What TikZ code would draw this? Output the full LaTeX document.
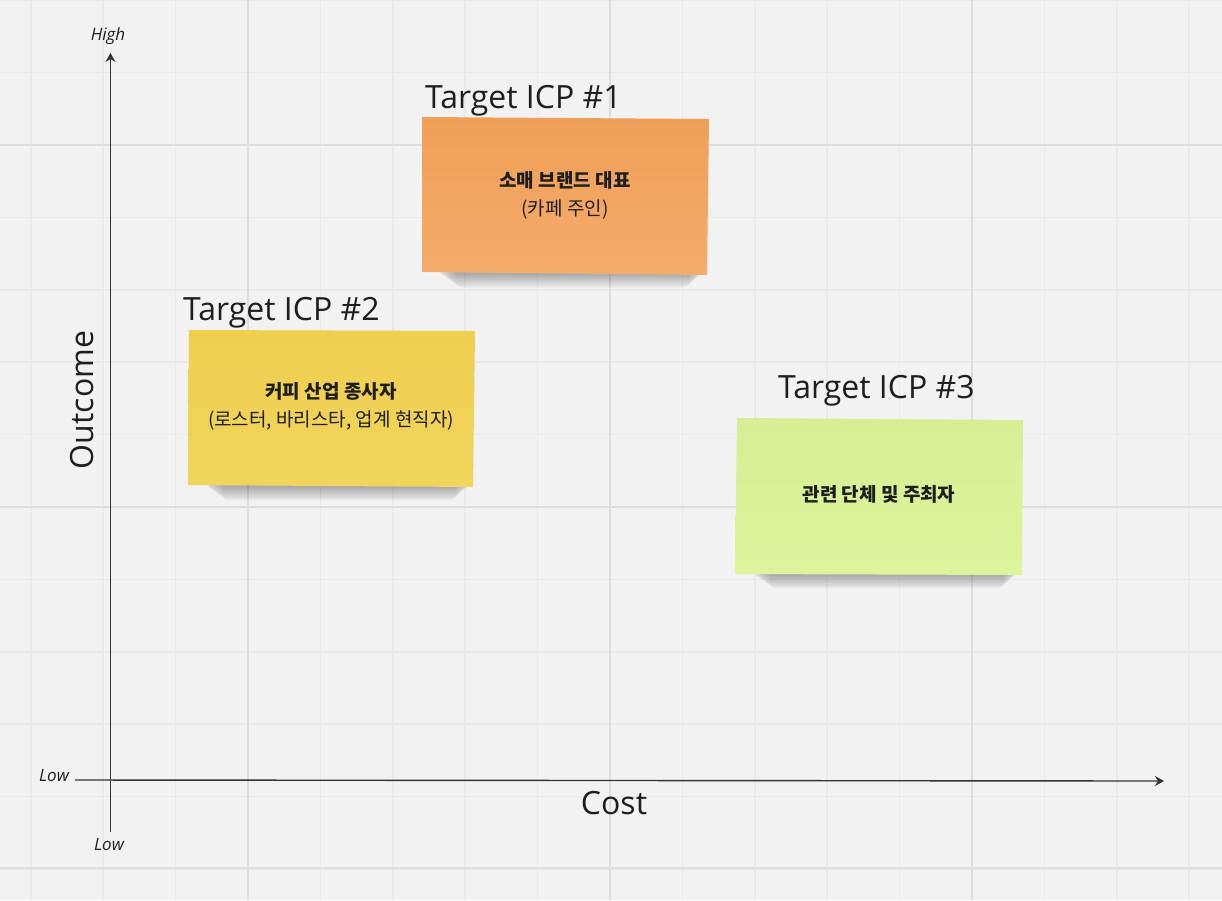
\documentclass[tikz,border=0pt]{standalone}
\usepackage{fontspec}
\setmainfont{Open Sans}
\newfontfamily\kr{Noto Sans CJK KR}
\usetikzlibrary{arrows.meta}
\definecolor{bg}{HTML}{F2F2F2}
\definecolor{gridminor}{HTML}{E9E9E9}
\definecolor{gridmajor}{HTML}{DDDDDD}
\definecolor{axis}{HTML}{333333}
\definecolor{inktext}{HTML}{1E1E1E}
\definecolor{orangeA}{HTML}{F09F58}
\definecolor{orangeB}{HTML}{F4AC6B}
\definecolor{yellowA}{HTML}{EFCF4F}
\definecolor{yellowB}{HTML}{F1D45C}
\definecolor{limeA}{HTML}{D8EE94}
\definecolor{limeB}{HTML}{DDF49C}
\tikzset{
  minorline/.style={draw=gridminor, line width=1.6pt},
  majorline/.style={draw=gridmajor, line width=2pt},
  axisline/.style={draw=axis, line width=1.4pt},
  axistip/.style={-{Stealth[length=9pt,width=10pt,inset=3pt]}},
  biglabel/.style={text=inktext, font=\fontsize{32}{38}\selectfont, inner sep=0pt},
  smalllabel/.style={text=inktext, font=\itshape\fontsize{17}{20}\selectfont, inner sep=0pt},
  notetext/.style={text=inktext, font=\kr\fontsize{19}{28}\selectfont, align=center, inner sep=0pt},
  shadowlayer/.style={fill=black, opacity=0.04, rounded corners=7pt},
}
\newcommand\mynoteshadow[3]{% left x, right x, bottom y
  \foreach \i in {0,...,7}{
    \fill[shadowlayer] (#1+16+\i*2.5, #3-10) rectangle (#2-4-\i*2, #3+2+\i*1.8);
  }
}
\begin{document}
\begin{tikzpicture}[x=1pt,y=-1pt]
\fill[bg] (0,0) rectangle (1222,900);
\useasboundingbox (0,0) rectangle (1222,900);
% grid
\foreach \k in {0,...,16}{
  \pgfmathsetmacro\gx{30.8+72.4*\k}
  \draw[minorline] (\gx,0) -- (\gx,900);
}
\foreach \k in {0,...,12}{
  \pgfmathsetmacro\gy{0.2+72.4*\k}
  \draw[minorline] (0,\gy) -- (1222,\gy);
}
\foreach \gx in {248,610,972}{ \draw[majorline] (\gx,0) -- (\gx,900); }
\foreach \gy in {145,507,868}{ \draw[majorline] (0,\gy) -- (1222,\gy); }

% axes
\coordinate (ybot) at (110.5,832);
\coordinate (ytop) at (110.5,53);
\coordinate (xleft) at (75,780);
\coordinate (xright) at (1164,781);
\draw[axisline, axistip] (ybot) -- (ytop);
\draw[axisline, axistip] (xleft) -- (xright);
\node[smalllabel] (high) at (108,36) {High};
\node[smalllabel] (lowx) at (54,775) {Low};
\node[smalllabel] (lowy) at (109,844) {Low};
\node[biglabel, rotate=90] (outcome) at (82,400) {Outcome};
\node[biglabel] (cost) at (614,803) {Cost};

% note 1
\mynoteshadow{422}{708}{273}
\coordinate (n1a) at (422,117);
\coordinate (n1b) at (709,119);
\coordinate (n1c) at (707,275);
\coordinate (n1d) at (422,272);
\shade[top color=orangeA, bottom color=orangeB] (n1a) -- (n1b) -- (n1c) -- (n1d) -- cycle;
\node[notetext] (t1) at (565,195) {{\bfseries 소매 브랜드 대표}\\(카페 주인)};
\node[biglabel, anchor=west] (l1) at (425,101) {Target ICP \#1};

% note 2
\mynoteshadow{189}{474}{486}
\coordinate (n2a) at (189,330);
\coordinate (n2b) at (475,331);
\coordinate (n2c) at (473,487);
\coordinate (n2d) at (188,485);
\shade[top color=yellowA, bottom color=yellowB] (n2a) -- (n2b) -- (n2c) -- (n2d) -- cycle;
\node[notetext] (t2) at (331,406) {{\bfseries 커피 산업 종사자}\\(로스터, 바리스타, 업계 현직자)};
\node[biglabel, anchor=west] (l2) at (183,313) {Target ICP \#2};

% note 3
\mynoteshadow{736}{1022}{574}
\coordinate (n3a) at (737,418);
\coordinate (n3b) at (1023,420);
\coordinate (n3c) at (1022,575);
\coordinate (n3d) at (735,574);
\shade[top color=limeA, bottom color=limeB] (n3a) -- (n3b) -- (n3c) -- (n3d) -- cycle;
\node[notetext, font=\kr\bfseries\fontsize{19}{28}\selectfont] (t3) at (879,494) {관련 단체 및 주최자};
\node[biglabel, anchor=west] (l3) at (778,391) {Target ICP \#3};
\end{tikzpicture}
\end{document}
